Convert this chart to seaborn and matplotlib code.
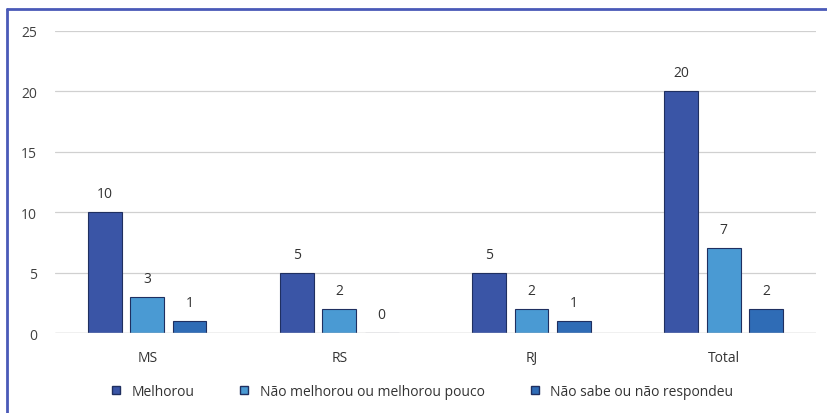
import matplotlib
matplotlib.use("Agg")
import matplotlib.pyplot as plt
import seaborn as sns
import pandas as pd
from matplotlib.lines import Line2D

categories = ["MS", "RS", "RJ", "Total"]
series_names = ["Melhorou", "Não melhorou ou melhorou pouco", "Não sabe ou não respondeu"]
melhorou = [10, 5, 5, 20]
nao_melhorou = [3, 2, 2, 7]
nao_sabe = [1, 0, 1, 2]
y_ticks = [0, 5, 10, 15, 20, 25]

colors = ["#3a55a6", "#4a9ad3", "#2f6cb6"]

rows = []
for s, vals in zip(series_names, [melhorou, nao_melhorou, nao_sabe]):
    for c, v in zip(categories, vals):
        rows.append({"cat": c, "serie": s, "val": v})
df = pd.DataFrame(rows)

sns.set_theme(style="white")
plt.rcParams['font.family'] = ['Open Sans', 'DejaVu Sans']

fig = plt.figure(figsize=(8.27, 4.14), dpi=100)
ax = fig.add_axes([0.0665, 0.193, 0.92, 0.73])

sns.barplot(data=df, x="cat", y="val", hue="serie", palette=colors,
            saturation=1, width=0.66, gap=0.2, ax=ax, legend=False,
            edgecolor="#1f2f60", linewidth=0.8)

for cont in ax.containers:
    ax.bar_label(cont, fmt="%d", padding=8, fontsize=10, color="#333333")

ax.set_ylim(0, 25)
ax.set_xlim(-0.48, 3.48)
ax.set_yticks(y_ticks)
ax.yaxis.grid(True, color="#d0d0d0", linewidth=0.9)
ax.set_axisbelow(True)
for sp in ax.spines.values():
    sp.set_visible(False)
ax.axhline(0, color="#d0d0d0", linewidth=1.0)
ax.set_xlabel("")
ax.set_ylabel("")
ax.tick_params(axis="y", labelsize=10, colors="#404040", pad=13, length=0)
ax.tick_params(axis="x", labelsize=10, colors="#333333", pad=12, length=0)

handles = [Line2D([0], [0], marker="s", linestyle="", markersize=6,
                  markerfacecolor=c, markeredgecolor="#1f2f60") for c in colors]
fig.legend(handles, series_names, loc="center", bbox_to_anchor=(0.505, 0.053),
           ncol=3, frameon=False, fontsize=10, handletextpad=0.1,
           columnspacing=2.6, labelcolor="#333333")

# figure border (top and left blue lines)
fig.add_artist(Line2D([7/827, 7/827], [0, 1 - 10/414], transform=fig.transFigure,
                      color="#4a5ab8", linewidth=2))
fig.add_artist(Line2D([7/827, 1], [1 - 10/414, 1 - 10/414], transform=fig.transFigure,
                      color="#4a5ab8", linewidth=2))

fig.savefig("out.png", dpi=100)
